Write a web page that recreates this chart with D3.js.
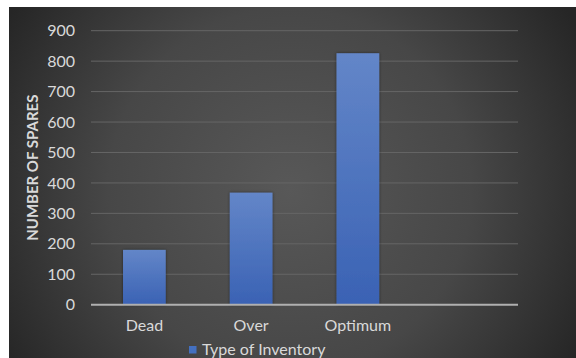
<!DOCTYPE html>
<html>
<head>
<meta charset="utf-8">
<script src="https://cdn.jsdelivr.net/npm/d3@7"></script>
<style>
  html, body { margin: 0; padding: 0; background: #ffffff; }
  svg { display: block; }
  text { font-family: Lato, "Open Sans", sans-serif; }
</style>
</head>
<body>
<svg id="chart" width="576" height="358"></svg>
<script>
// Inventory categories and spare counts
const categories = ["Dead", "Over", "Optimum", ""];
const spares = [180, 368, 826];
const yTicks = [0, 100, 200, 300, 400, 500, 600, 700, 800, 900];
const seriesName = "Type of Inventory";
const yTitle = "NUMBER OF SPARES";

const svg = d3.select("#chart");
const W = 576, H = 358;

const defs = svg.append("defs");
const bg = defs.append("radialGradient").attr("id", "bg")
  .attr("gradientUnits", "userSpaceOnUse")
  .attr("cx", 290).attr("cy", 190).attr("r", 330);
bg.append("stop").attr("offset", "0%").attr("stop-color", "#585858");
bg.append("stop").attr("offset", "55%").attr("stop-color", "#474747");
bg.append("stop").attr("offset", "100%").attr("stop-color", "#262626");

const barGrad = defs.append("linearGradient").attr("id", "barGrad")
  .attr("x1", 0).attr("y1", 0).attr("x2", 0).attr("y2", 1);
barGrad.append("stop").attr("offset", "0%").attr("stop-color", "#6386c8");
barGrad.append("stop").attr("offset", "100%").attr("stop-color", "#3a62b4");

const shadow = defs.append("filter").attr("id", "shadow")
  .attr("x", "-30%").attr("y", "-10%").attr("width", "160%").attr("height", "120%");
shadow.append("feDropShadow").attr("dx", 0).attr("dy", 0)
  .attr("stdDeviation", 1.5).attr("flood-color", "#000").attr("flood-opacity", 0.5);

// chart area background
svg.append("rect").attr("x", 9).attr("y", 7).attr("width", W - 9).attr("height", H - 7)
  .attr("fill", "url(#bg)");

const plot = { left: 91, right: 518, top: 30.7, bottom: 304.7 };

const x = d3.scaleBand().domain(categories)
  .range([plot.left, plot.right]).paddingInner(0.6).paddingOuter(0.3);
const y = d3.scaleLinear().domain([0, 900]).range([plot.bottom, plot.top]);

// gridlines
svg.append("g")
  .selectAll("line").data(yTicks.filter(d => d > 0)).join("line")
  .attr("x1", plot.left).attr("x2", plot.right)
  .attr("y1", d => y(d)).attr("y2", d => y(d))
  .attr("stroke", "#656565").attr("stroke-width", 1);

// y axis labels
const yAxis = d3.axisLeft(y).tickValues(yTicks).tickSize(0).tickPadding(16);
const gy = svg.append("g").attr("transform", `translate(${plot.left},0)`).call(yAxis);
gy.select(".domain").remove();
gy.selectAll("text").attr("fill", "#d9d9d9").attr("font-size", 16)
  .style("font-family", "Lato, sans-serif");

// bars
svg.append("g").selectAll("rect").data(spares).join("rect")
  .attr("x", (d, i) => x(categories[i]))
  .attr("width", x.bandwidth())
  .attr("y", d => y(d))
  .attr("height", d => y(0) - y(d))
  .attr("fill", "url(#barGrad)")
  .attr("filter", "url(#shadow)");

// baseline
svg.append("line").attr("x1", plot.left).attr("x2", plot.right)
  .attr("y1", y(0)).attr("y2", y(0))
  .attr("stroke", "#b0b0b0").attr("stroke-width", 2);

// x axis labels
const xAxis = d3.axisBottom(x).tickSize(0).tickPadding(15);
const gx = svg.append("g").attr("transform", `translate(0,${y(0)})`).call(xAxis);
gx.select(".domain").remove();
gx.selectAll("text").attr("fill", "#d9d9d9").attr("font-size", 16)
  .style("font-family", "Lato, sans-serif");

// y axis title
svg.append("text")
  .attr("transform", `translate(38,${(plot.top + plot.bottom) / 2}) rotate(-90)`)
  .attr("text-anchor", "middle")
  .attr("fill", "#d9d9d9").attr("font-size", 15).attr("font-weight", "bold")
  .text(yTitle);

// legend
const lg = svg.append("g").attr("transform", "translate(189,346)");
lg.append("rect").attr("width", 7.5).attr("height", 7.5).attr("fill", "#4470c0");
lg.append("text").attr("x", 13).attr("y", 8.5).attr("fill", "#d9d9d9")
  .attr("font-size", 16).text(seriesName);
</script>
</body>
</html>
